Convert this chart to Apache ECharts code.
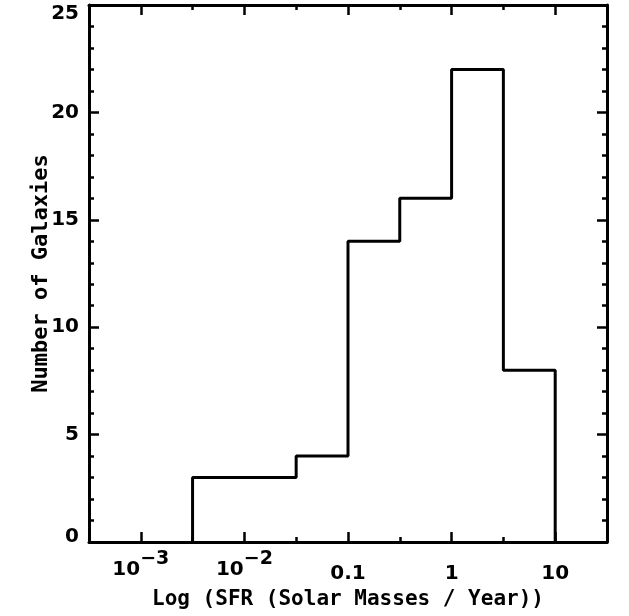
<!DOCTYPE html>
<html><head><meta charset="utf-8">
<script src="https://cdn.jsdelivr.net/npm/echarts@6/dist/echarts.min.js"></script>
<style>html,body{margin:0;padding:0;background:#fff}#chart{width:629px;height:616px}</style>
</head><body><div id="chart"></div>
<script>
// ---- data ----
const binEdges = [0.00316, 0.01, 0.0316, 0.1, 0.316, 1, 3.16, 10];
const galaxyCounts = [3, 3, 4, 14, 16, 22, 8];
const xMajorTicks = [0.001, 0.01, 0.1, 1, 10];
const xMajorLabels = ['10^-3', '10^-2', '0.1', '1', '10'];
const xMinorTicks = [0.000316, 0.00316, 0.0316, 0.316, 3.16, 31.6];
const yTickLabels = ['0', '5', '10', '15', '20', '25'];
const xTitle = 'Log (SFR (Solar Masses / Year))';
const yTitle = 'Number of Galaxies';

const lg = v => Math.log10(v);
const outline = [[lg(binEdges[0]), 0]];
galaxyCounts.forEach((c, i) => {
  outline.push([lg(binEdges[i]), c]);
  outline.push([lg(binEdges[i + 1]), c]);
});
outline.push([lg(binEdges[binEdges.length - 1]), 0]);

const xMajorPos = xMajorTicks.map(lg);
const xMinorPos = xMinorTicks.map(lg);

function fmtX(v) {
  const i = xMajorPos.findIndex(t => Math.abs(t - v) < 1e-6);
  if (i < 0) return '';
  const s = xMajorLabels[i];
  if (s.indexOf('^') >= 0) {
    const parts = s.split('^');
    return '{b|' + parts[0] + '}{s|' + parts[1].replace('-', '\u2212') + '}';
  }
  return '{p|' + s + '}';
}
function fmtY(v) {
  const s = yTickLabels[Math.round(v / 5)] || String(v);
  if (v === 25) return '{t|' + s + '}';
  if (v === 0) return '{z|' + s + '}';
  return '{n|' + s + '}';
}

const BLACK = '#000';
const tickFont = 'DejaVu Sans';
const titleFont = 'DejaVu Sans Mono';
const W = 'bold';
const FS = 20;

function xAxisBase(position, ticks, len, withLine) {
  return {
    type: 'value', position: position, min: -3.5, max: 1.5,
    axisLine: { show: withLine, onZero: false, lineStyle: { color: BLACK, width: 3 } },
    axisTick: { show: true, inside: true, length: len, customValues: ticks, lineStyle: { color: BLACK, width: 2.5 } },
    axisLabel: { show: false },
    splitLine: { show: false }
  };
}

const bottomMajor = xAxisBase('bottom', xMajorPos, 10, true);
bottomMajor.axisLabel = {
  show: true, customValues: xMajorPos, formatter: fmtX, margin: 8,
  color: BLACK, fontFamily: tickFont, fontSize: FS, fontWeight: W,
  rich: {
    b: { fontFamily: tickFont, fontSize: FS, fontWeight: W, color: BLACK, lineHeight: 30, verticalAlign: 'bottom' },
    s: { fontFamily: tickFont, fontSize: 19, fontWeight: W, color: BLACK, lineHeight: 30, verticalAlign: 'top' },
    p: { fontFamily: tickFont, fontSize: FS, fontWeight: W, color: BLACK, lineHeight: 34, verticalAlign: 'bottom' }
  }
};
bottomMajor.name = xTitle;
bottomMajor.nameLocation = 'middle';
bottomMajor.nameGap = 47;
bottomMajor.nameMoveOverlap = false;
bottomMajor.nameTextStyle = { color: BLACK, fontFamily: titleFont, fontSize: 21, fontWeight: W };

function yAxisBase(position, withLabels) {
  return {
    type: 'value', position: position, min: 0, max: 25, interval: 5,
    axisLine: { show: true, onZero: false, lineStyle: { color: BLACK, width: 3 } },
    axisTick: { show: true, inside: true, length: 10, lineStyle: { color: BLACK, width: 2.5 } },
    minorTick: { show: true, splitNumber: 5, length: 5, lineStyle: { color: BLACK, width: 2.5 } },
    axisLabel: withLabels ? {
      show: true, formatter: fmtY, margin: 10, color: BLACK, fontFamily: tickFont, fontSize: FS, fontWeight: W,
      rich: {
        n: { fontFamily: tickFont, fontSize: FS, fontWeight: W, color: BLACK },
        t: { fontFamily: tickFont, fontSize: FS, fontWeight: W, color: BLACK, padding: [17, 0, 0, 0] },
        z: { fontFamily: tickFont, fontSize: FS, fontWeight: W, color: BLACK, padding: [0, 0, 11, 0] }
      }
    } : { show: false },
    splitLine: { show: false },
    minorSplitLine: { show: false }
  };
}
const leftAxis = yAxisBase('left', true);
leftAxis.name = yTitle;
leftAxis.nameLocation = 'middle';
leftAxis.nameGap = 37;
leftAxis.nameRotate = 90;
leftAxis.nameMoveOverlap = false;
leftAxis.nameTextStyle = { color: BLACK, fontFamily: titleFont, fontSize: 22, fontWeight: W };

const chart = echarts.init(document.getElementById('chart'), null, { renderer: 'canvas' });
chart.setOption({
  animation: false,
  backgroundColor: '#fff',
  grid: { left: 89, right: 22, top: 5, bottom: 74, containLabel: false },
  xAxis: [
    bottomMajor,
    xAxisBase('bottom', xMinorPos, 5, false),
    xAxisBase('top', xMajorPos, 10, true),
    xAxisBase('top', xMinorPos, 5, false)
  ],
  yAxis: [leftAxis, yAxisBase('right', false)],
  series: [{
    type: 'line', xAxisIndex: 0, yAxisIndex: 0,
    data: outline, symbol: 'none', smooth: false,
    lineStyle: { color: BLACK, width: 3 }
  }]
});
</script></body></html>
